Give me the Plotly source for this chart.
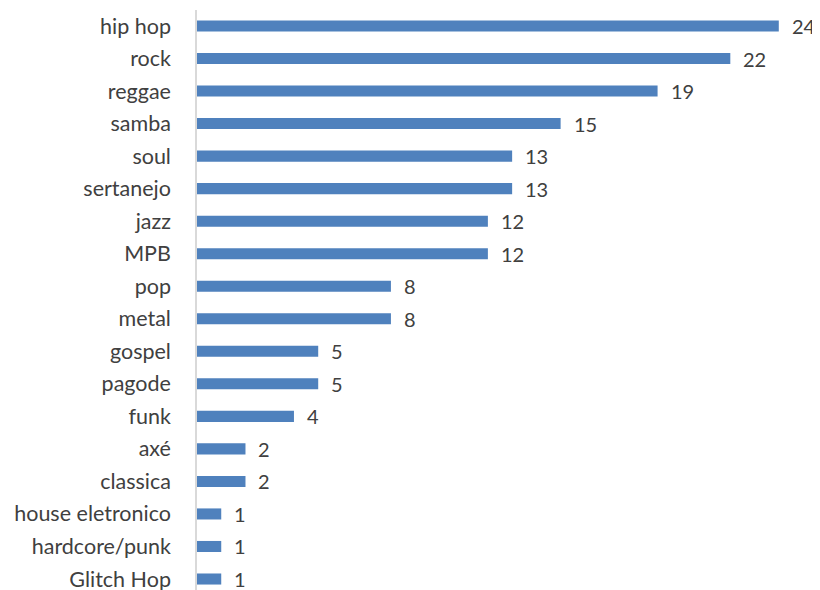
import plotly.graph_objects as go

categories = ["hip hop", "rock", "reggae", "samba", "soul", "sertanejo", "jazz", "MPB",
              "pop", "metal", "gospel", "pagode", "funk", "axé", "classica",
              "house eletronico", "hardcore/punk", "Glitch Hop"]
values = [24, 22, 19, 15, 13, 13, 12, 12, 8, 8, 5, 5, 4, 2, 2, 1, 1, 1]

bar_color = "#4F81BD"
text_color = "#404040"
font_family = "Lato, Open Sans, sans-serif"
fs = 21.5

fig = go.Figure(go.Bar(
    x=values, y=categories, orientation="h",
    marker=dict(color=bar_color, line=dict(width=0)),
    width=0.34, hoverinfo="skip",
))

for c, v in zip(categories, values):
    fig.add_annotation(x=v, y=c, text=str(v), showarrow=False, xanchor="left",
                       xshift=11, font=dict(size=20, color=text_color, family=font_family))

fig.update_layout(
    width=812, height=582,
    margin=dict(l=189, r=0, t=2, b=0, autoexpand=False),
    plot_bgcolor="white", paper_bgcolor="white",
    showlegend=False,
    font=dict(family=font_family, size=fs, color=text_color),
    xaxis=dict(range=[0, 25.7], visible=False, showgrid=False, zeroline=False,
               automargin=False),
    yaxis=dict(type="category", categoryorder="array", categoryarray=categories,
               range=[17.338, -0.492], showline=True, linecolor="#D9D9D9", linewidth=1.5,
               ticks="", showgrid=False, ticklabelstandoff=20, automargin=False,
               tickfont=dict(size=fs, color=text_color, family=font_family)),
)

fig.write_html("out.html")
